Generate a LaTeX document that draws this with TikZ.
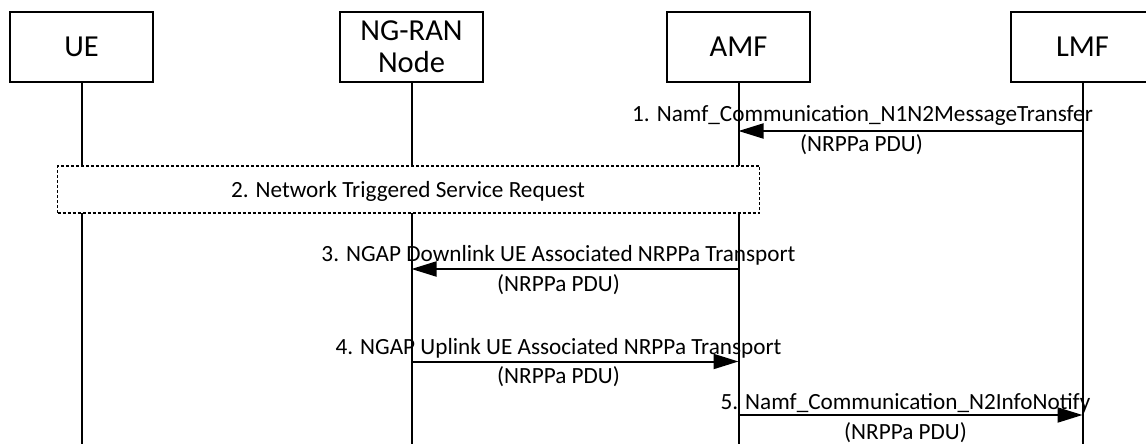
\documentclass[tikz,border=0pt]{standalone}
\usepackage{fontspec}
\setmainfont{Carlito}
\usetikzlibrary{arrows.meta}
\begin{document}
\begin{tikzpicture}[x=1pt,y=-1pt,
  entity/.style={draw,line width=2pt,minimum width=143pt,minimum height=70pt,inner sep=0pt,align=center,font=\fontsize{30.5}{32}\selectfont},
  life/.style={line width=2pt},
  msg/.style={line width=2pt,-{Triangle[length=25pt,width=15pt]}},
  lbl/.style={anchor=base,inner sep=0pt,font=\fontsize{23.2}{27}\selectfont},
  grp/.style={draw,fill=white,line width=1.8pt,dash pattern=on 3pt off 2pt,inner sep=0pt}]
\useasboundingbox (0,0) rectangle (1146,444);
% entities
\node[entity] (ue) at (81.5,47) {UE};
\node[entity] (ran) at (411.5,47) {NG-RAN\\Node};
\node[entity] (amf) at (738.5,47) {AMF};
\node[entity] (lmf) at (1082.5,47) {LMF};
% lifeline ends
\coordinate (ueE) at (ue.south |- 0,444);
\coordinate (ranE) at (ran.south |- 0,444);
\coordinate (amfE) at (amf.south |- 0,444);
\coordinate (lmfE) at (lmf.south |- 0,444);
\draw[life] (ue.south) -- (ueE);
\draw[life] (ran.south) -- (ranE);
\draw[life] (amf.south) -- (amfE);
\draw[life] (lmf.south) -- (lmfE);
% message points
\coordinate (m1s) at (lmf.south |- 0,131);
\coordinate (m1e) at (amf.south |- 0,131);
\coordinate (m3s) at (amf.south |- 0,269);
\coordinate (m3e) at (ran.south |- 0,269);
\coordinate (m4s) at (ran.south |- 0,361.5);
\coordinate (m4e) at (amf.south |- 0,361.5);
\coordinate (m5s) at (amf.south |- 0,415);
\coordinate (m5e) at (lmf.south |- 0,415);
% step 1
\draw[msg] (m1s) -- (m1e);
\node[lbl] (l1) at (862.5,121.5) {1. Namf\_Communication\_N1N2MessageTransfer};
\node[lbl] (l1b) at (861.5,151) {(NRPPa PDU)};
% step 2
\node[grp,minimum width=702pt,minimum height=47pt] (g2) at (408.5,189.5) {};
\node[lbl] (l2) at (408,197.5) {2. Network Triggered Service Request};
% step 3
\draw[msg] (m3s) -- (m3e);
\node[lbl] (l3) at (558.5,261) {3. NGAP Downlink UE Associated NRPPa Transport};
\node[lbl] (l3b) at (558.5,291) {(NRPPa PDU)};
% step 4
\draw[msg] (m4s) -- (m4e);
\node[lbl] (l4) at (558.5,354) {4. NGAP Uplink UE Associated NRPPa Transport};
\node[lbl] (l4b) at (558.5,383) {(NRPPa PDU)};
% step 5
\draw[msg] (m5s) -- (m5e);
\node[lbl] (l5) at (905.5,409.5) {5. Namf\_Communication\_N2InfoNotify};
\node[lbl] (l5b) at (905.5,439) {(NRPPa PDU)};
\end{tikzpicture}
\end{document}
